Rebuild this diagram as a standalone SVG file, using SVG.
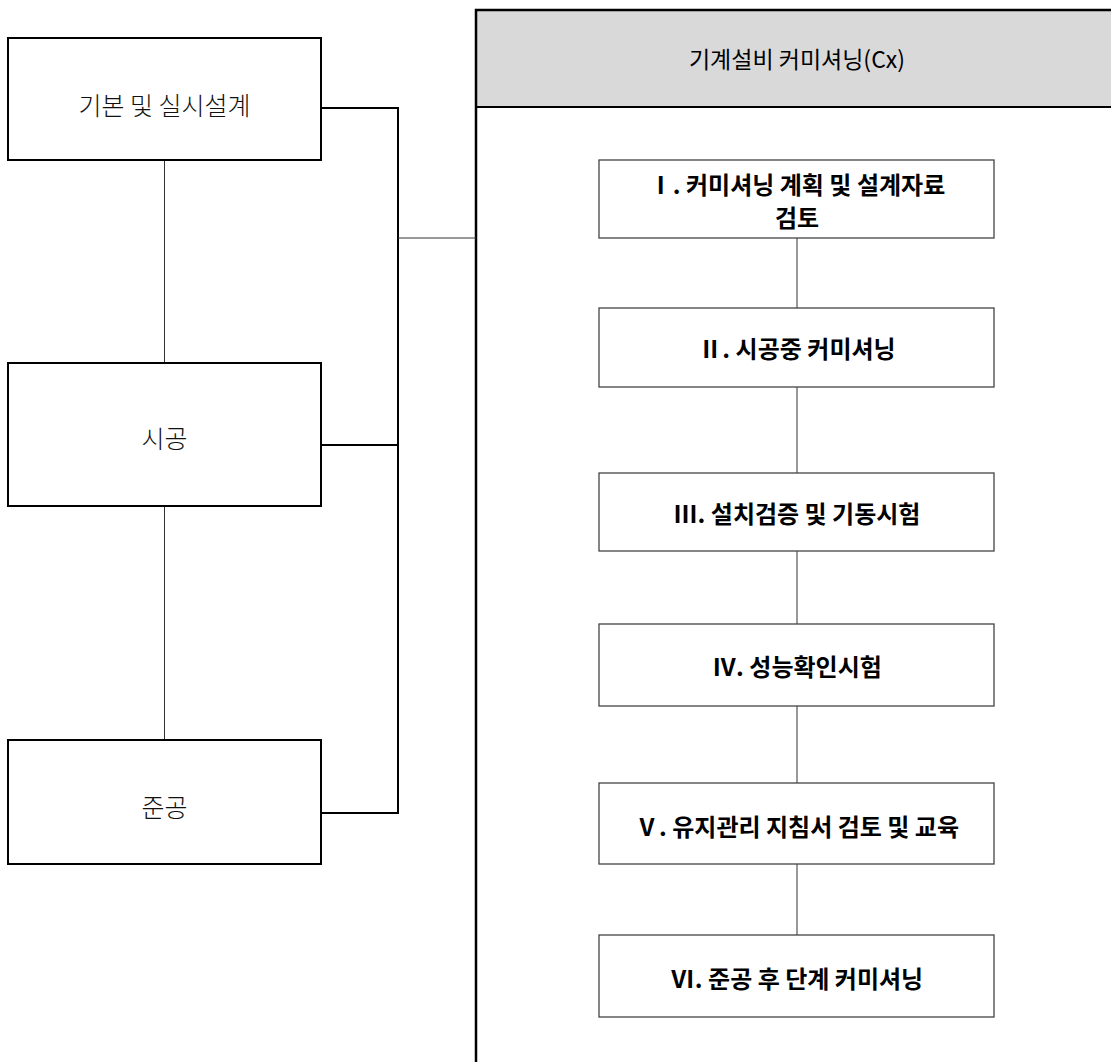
<svg xmlns="http://www.w3.org/2000/svg" width="1111" height="1062" viewBox="0 0 1111 1062">
<style>
.lbox{fill:#fff;stroke:#000;stroke-width:2}
.ibox{fill:#fff;stroke:#444;stroke-width:1.3}
.ltxt{font-family:"Noto Sans CJK KR","Noto Sans",sans-serif;font-size:25px;font-weight:300;fill:#111;text-anchor:middle;dominant-baseline:central}
.itxt{font-family:"Noto Sans CJK KR","Noto Sans",sans-serif;font-size:24px;font-weight:700;fill:#000;text-anchor:middle;dominant-baseline:central}
.ttxt{font-family:"Noto Sans CJK KR","Noto Sans",sans-serif;font-size:23px;font-weight:400;fill:#000;text-anchor:middle;dominant-baseline:central}
.thin{fill:none;stroke:#333;stroke-width:1}
.thick{fill:none;stroke:#000;stroke-width:2}
</style>
<rect width="1111" height="1062" fill="#fff"/>
<g id="cx-frame">
<rect x="476" y="10" width="650" height="97" fill="#d9d9d9"/>
<path d="M476 1070 V10 H1120" fill="none" stroke="#000" stroke-width="2.5"/>
<line x1="476" y1="107" x2="1120" y2="107" stroke="#000" stroke-width="2"/>
<text class="ttxt" x="797" y="58">기계설비 커미셔닝(Cx)</text>
</g>
<g id="connectors">
<line class="thin" x1="164.5" y1="160" x2="164.5" y2="363"/>
<line class="thin" x1="164.5" y1="506" x2="164.5" y2="740"/>
<path class="thick" d="M321 108 H398 V813 H321"/>
<line class="thick" x1="321" y1="445" x2="398" y2="445"/>
<line class="thin" x1="398" y1="238" x2="476" y2="238"/>
<line class="thin" x1="797" y1="238" x2="797" y2="308"/>
<line class="thin" x1="797" y1="387" x2="797" y2="473"/>
<line class="thin" x1="797" y1="551" x2="797" y2="624"/>
<line class="thin" x1="797" y1="706" x2="797" y2="783"/>
<line class="thin" x1="797" y1="864" x2="797" y2="935"/>
</g>
<g id="design">
<rect class="lbox" x="8" y="38" width="313" height="122"/>
<text class="ltxt" x="164.5" y="104">기본 및 실시설계</text>
</g>
<g id="construction">
<rect class="lbox" x="8" y="363" width="313" height="143"/>
<text class="ltxt" x="164.5" y="437">시공</text>
</g>
<g id="completion">
<rect class="lbox" x="8" y="740" width="313" height="124"/>
<text class="ltxt" x="164.5" y="806">준공</text>
</g>
<g id="step1">
<rect class="ibox" x="599" y="160" width="395" height="78"/>
<text class="itxt" x="797" y="183">Ⅰ. 커미셔닝 계획 및 설계자료</text>
<text class="itxt" x="797" y="216">검토</text>
</g>
<g id="step2">
<rect class="ibox" x="599" y="308" width="395" height="79"/>
<text class="itxt" x="797" y="347">Ⅱ. 시공중 커미셔닝</text>
</g>
<g id="step3">
<rect class="ibox" x="599" y="473" width="395" height="78"/>
<text class="itxt" x="797" y="512">Ⅲ. 설치검증 및 기동시험</text>
</g>
<g id="step4">
<rect class="ibox" x="599" y="624" width="395" height="82"/>
<text class="itxt" x="797" y="665">Ⅳ. 성능확인시험</text>
</g>
<g id="step5">
<rect class="ibox" x="599" y="783" width="395" height="81"/>
<text class="itxt" x="797" y="825">Ⅴ. 유지관리 지침서 검토 및 교육</text>
</g>
<g id="step6">
<rect class="ibox" x="599" y="935" width="395" height="82"/>
<text class="itxt" x="797" y="977">Ⅵ. 준공 후 단계 커미셔닝</text>
</g>
</svg>
